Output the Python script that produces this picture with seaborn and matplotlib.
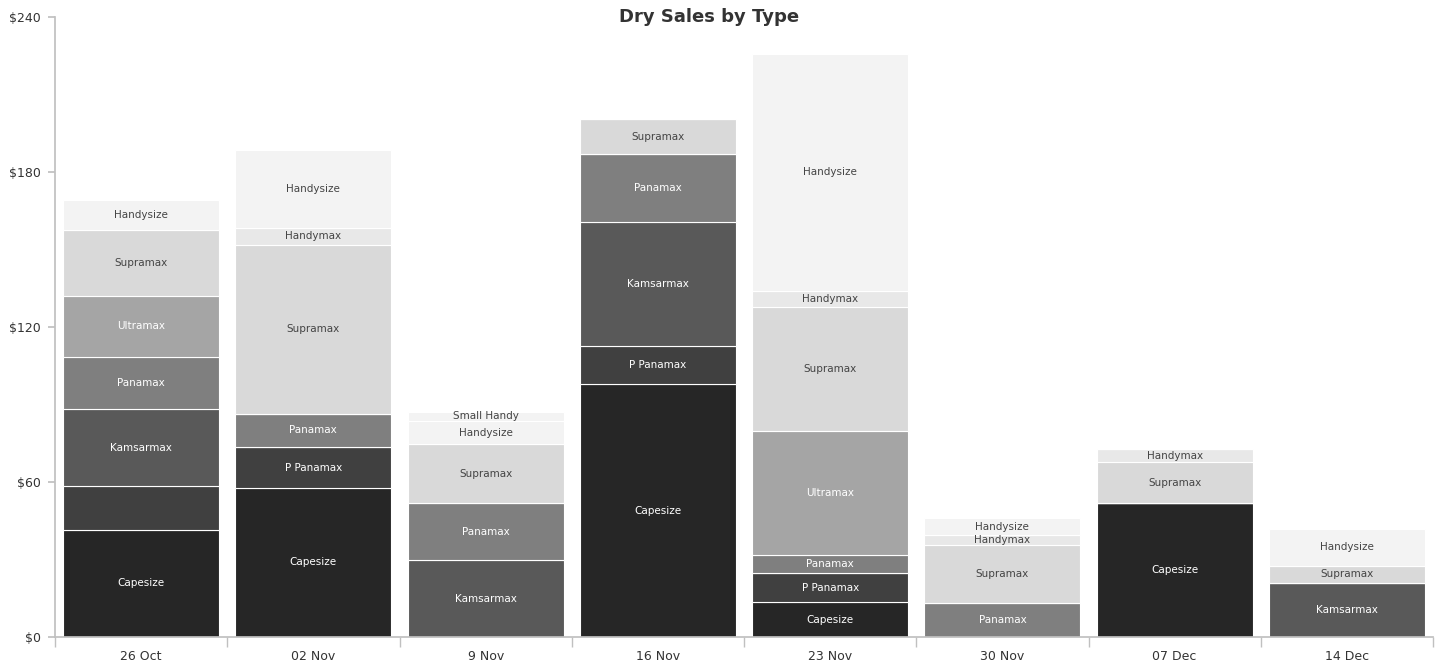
import numpy as np
import pandas as pd
import seaborn as sns
import matplotlib.pyplot as plt
from matplotlib.ticker import MultipleLocator, FuncFormatter

# weeks on the x axis
weeks = ["26 Oct", "02 Nov", "9 Nov", "16 Nov", "23 Nov", "30 Nov", "07 Dec", "14 Dec"]

# vessel types, bottom of the stack first
types = ["Capesize", "P Panamax", "Kamsarmax", "Panamax", "Ultramax",
         "Supramax", "Handymax", "Handysize", "Small Handy"]

# sales per type ($), one value per week (0 = none that week)
capesize    = [41.5, 57.8, 0.0, 97.9, 13.4, 0.0, 51.7, 0.0]
p_panamax   = [16.8, 15.6, 0.0, 14.7, 11.4, 0.0, 0.0, 0.0]
kamsarmax   = [30.0, 0.0, 29.8, 48.0, 0.0, 0.0, 0.0, 20.8]
panamax     = [20.0, 13.1, 21.9, 26.2, 6.9, 13.2, 0.0, 0.0]
ultramax    = [23.8, 0.0, 0.0, 0.0, 48.0, 0.0, 0.0, 0.0]
supramax    = [25.4, 65.1, 22.9, 13.6, 48.2, 22.3, 16.2, 6.8]
handymax    = [0.0, 6.9, 0.0, 0.0, 6.2, 4.1, 4.7, 0.0]
handysize   = [11.7, 30.0, 9.1, 0.0, 91.6, 6.3, 0.0, 14.1]
small_handy = [0.0, 0.0, 3.5, 0.0, 0.0, 0.0, 0.0, 0.0]

values = dict(zip(types, [capesize, p_panamax, kamsarmax, panamax, ultramax,
                          supramax, handymax, handysize, small_handy]))

colors = {"Capesize": "#262626", "P Panamax": "#404040", "Kamsarmax": "#595959",
          "Panamax": "#7f7f7f", "Ultramax": "#a5a5a5", "Supramax": "#d9d9d9",
          "Handymax": "#e8e8e8", "Handysize": "#f3f3f3", "Small Handy": "#f3f3f3"}
light_text = ["Capesize", "P Panamax", "Kamsarmax", "Panamax", "Ultramax"]

# segments drawn without a data label in the original
no_label = [("26 Oct", "P Panamax")]

sns.set_theme(style="white")
plt.rcParams['font.family'] = ['DejaVu Sans']

fig = plt.figure(figsize=(14.43, 6.66), dpi=100)
ax = fig.add_axes([55/1443, 29/666, 1378/1443, 620/666])

bottom = np.zeros(len(weeks))
for t in types:
    df = pd.DataFrame({"week": weeks, "value": values[t]})
    sns.barplot(data=df, x="week", y="value", order=weeks, color=colors[t],
                saturation=1, width=0.906, bottom=bottom, edgecolor="white",
                linewidth=0.8, ax=ax)
    for i, v in enumerate(values[t]):
        if v > 0 and (weeks[i], t) not in no_label:
            ax.text(i, bottom[i] + v / 2, t, ha="center", va="center", fontsize=7.5,
                    color="white" if t in light_text else "#444444")
    bottom = bottom + np.array(values[t])

ax.set_xlim(-0.5, len(weeks) - 0.5)
ax.set_ylim(0, 240)
ax.set_xlabel("")
ax.set_ylabel("")
ax.yaxis.set_major_locator(MultipleLocator(60))
ax.yaxis.set_major_formatter(FuncFormatter(lambda v, p: f"${v:.0f}"))

for s in ["top", "right"]:
    ax.spines[s].set_visible(False)
ax.spines["left"].set_color("#c0c0c0")
ax.spines["bottom"].set_color("#c0c0c0")

ax.tick_params(axis="x", which="major", length=0, pad=9, labelsize=9, labelcolor="#333333")
ax.set_xticks(np.arange(-0.5, len(weeks), 1.0), minor=True)
ax.tick_params(axis="x", which="minor", length=7, color="#c0c0c0", direction="out", bottom=True)
ax.tick_params(axis="y", length=5, color="#c0c0c0", left=True, pad=5,
               labelsize=9, labelcolor="#333333")

fig.text(709/1443, 1 - 17/666, "Dry Sales by Type", ha="center", va="center",
         fontsize=13, fontweight="bold", color="#333333")

fig.savefig("out.png", dpi=100)
